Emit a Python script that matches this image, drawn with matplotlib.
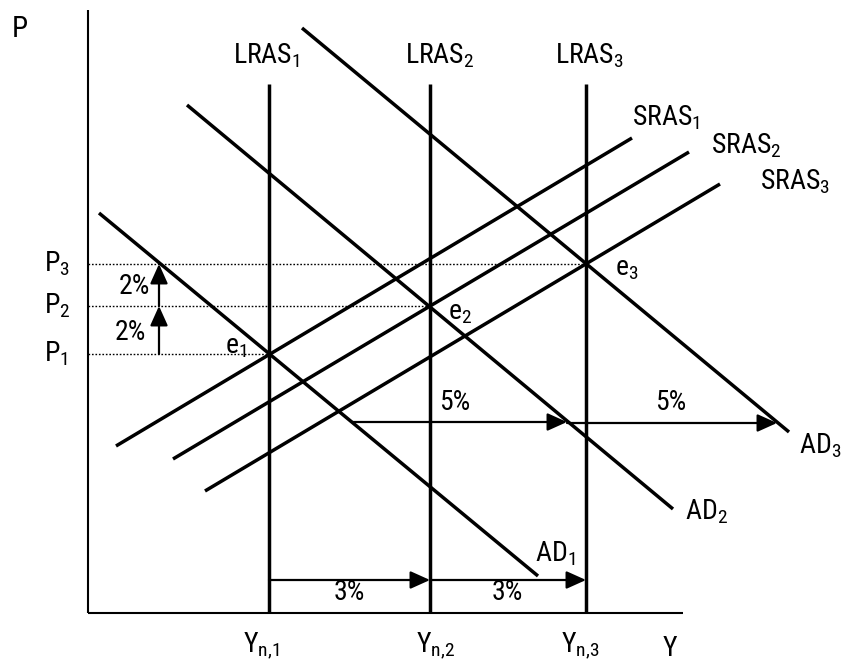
import matplotlib
matplotlib.use('Agg')
import matplotlib.pyplot as plt
from matplotlib import font_manager

names = {f.name for f in font_manager.fontManager.ttflist}
FONT = next((n for n in ['Liberation Sans Narrow', 'Roboto Condensed', 'Roboto', 'Liberation Sans']
             if n in names), 'DejaVu Sans')
plt.rcParams['font.family'] = [FONT, 'DejaVu Sans']
plt.rcParams['mathtext.fontset'] = 'custom'
plt.rcParams['mathtext.rm'] = FONT
plt.rcParams['mathtext.it'] = FONT
plt.rcParams['mathtext.default'] = 'regular'

# ---------------- data (diagram coordinates) ----------------
Yn = [269, 430, 586]                 # potential output levels (LRAS positions)
P_levels = [354, 306, 264]           # P1, P2, P3
lras_top = 84
origin = (88, 613)
axis_ends = (10, 683)                # top of P axis, right end of Y axis

AD_x = [[99, 538], [187, 673], [302, 789]]
AD_y = [[213, 576], [105, 509], [28, 432]]
SRAS_x = [[116, 632], [173, 689], [205, 720]]
SRAS_y = [[446, 138], [459, 152], [491, 184]]

lras_labels = ['$LRAS_1$', '$LRAS_2$', '$LRAS_3$']
lras_label_pos = [(233, 64), (405, 64), (555, 64)]
sras_labels = ['$SRAS_1$', '$SRAS_2$', '$SRAS_3$']
sras_label_pos = [(632, 125), (711, 153), (760, 190)]
ad_labels = ['$AD_1$', '$AD_2$', '$AD_3$']
ad_label_pos = [(535, 562), (685, 519), (799, 453)]
p_labels = ['$P_1$', '$P_2$', '$P_3$']
yn_labels = ['$Y_{n{,}1}$', '$Y_{n{,}2}$', '$Y_{n{,}3}$']
yn_label_x = [261, 435, 580]
e_labels = ['$e_1$', '$e_2$', '$e_3$']
e_label_pos = [(225, 353), (448, 320), (615, 276)]

price_arrow_x = 159
price_pct = ['2%', '2%']
price_pct_pos = [(130, 333), (134, 286)]
ad_arrow_y = [422, 423]
ad_arrow_x = [[352, 567], [567, 777]]
ad_pct = ['5%', '5%']
ad_pct_pos = [(455, 402), (671, 402)]
yn_arrow_y = 580
yn_pct = ['3%', '3%']
yn_pct_pos = [(349, 592), (507, 592)]

FS = 20
LW = 2.5

fig = plt.figure(figsize=(8.43, 6.62), dpi=100)
ax = fig.add_axes([0, 0, 1, 1])
ax.set_xlim(0, 843)
ax.set_ylim(662, 0)
ax.axis('off')

# axes of the diagram
ax.plot([origin[0], origin[0]], [axis_ends[0], origin[1]], color='k', lw=1.5, solid_capstyle='butt')
ax.plot([origin[0], axis_ends[1]], [origin[1], origin[1]], color='k', lw=1.5, solid_capstyle='butt')

# dotted price guides
for yn, p in zip(Yn, P_levels):
    ax.plot([origin[0], yn], [p, p], color='k', lw=1.0, linestyle=(0, (1.2, 1.3)))

# LRAS
for yn in Yn:
    ax.plot([yn, yn], [lras_top, origin[1]], color='k', lw=LW, solid_capstyle='butt')

# AD and SRAS
for xs, ys in zip(AD_x, AD_y):
    ax.plot(xs, ys, color='k', lw=LW, solid_capstyle='butt')
for xs, ys in zip(SRAS_x, SRAS_y):
    ax.plot(xs, ys, color='k', lw=LW, solid_capstyle='butt')

arrow_kw = dict(arrowstyle='-|>,head_length=1.0,head_width=0.45', mutation_scale=12,
                color='k', lw=1.6, shrinkA=0, shrinkB=0)

for i in range(2):
    ax.annotate('', xy=(price_arrow_x, P_levels[i + 1]), xytext=(price_arrow_x, P_levels[i]),
                arrowprops=arrow_kw)
    ax.text(*price_pct_pos[i], price_pct[i], fontsize=FS, ha='center', va='center')

for i in range(2):
    ax.annotate('', xy=(ad_arrow_x[i][1], ad_arrow_y[i]), xytext=(ad_arrow_x[i][0], ad_arrow_y[i]),
                arrowprops=arrow_kw)
    ax.text(*ad_pct_pos[i], ad_pct[i], fontsize=FS, ha='center', va='center')

for i in range(2):
    ax.annotate('', xy=(Yn[i + 1], yn_arrow_y), xytext=(Yn[i], yn_arrow_y), arrowprops=arrow_kw)
    ax.text(*yn_pct_pos[i], yn_pct[i], fontsize=FS, ha='center', va='center')

for s, (x, y) in zip(lras_labels, lras_label_pos):
    ax.text(x, y, s, fontsize=FS, ha='left', va='baseline')
for s, (x, y) in zip(sras_labels, sras_label_pos):
    ax.text(x, y, s, fontsize=FS, ha='left', va='baseline')
for s, (x, y) in zip(ad_labels, ad_label_pos):
    ax.text(x, y, s, fontsize=FS, ha='left', va='baseline')
for s, (x, y) in zip(e_labels, e_label_pos):
    ax.text(x, y, s, fontsize=FS, ha='left', va='baseline')
for s, p in zip(p_labels, P_levels):
    ax.text(44, p + 8, s, fontsize=FS, ha='left', va='baseline')
for s, x in zip(yn_labels, yn_label_x):
    ax.text(x, 652, s, fontsize=FS, ha='center', va='baseline')

ax.text(12, 37, 'P', fontsize=FS + 1, ha='left', va='baseline')
ax.text(663, 656, 'Y', fontsize=FS, ha='left', va='baseline')

fig.savefig('out.png', dpi=100)
